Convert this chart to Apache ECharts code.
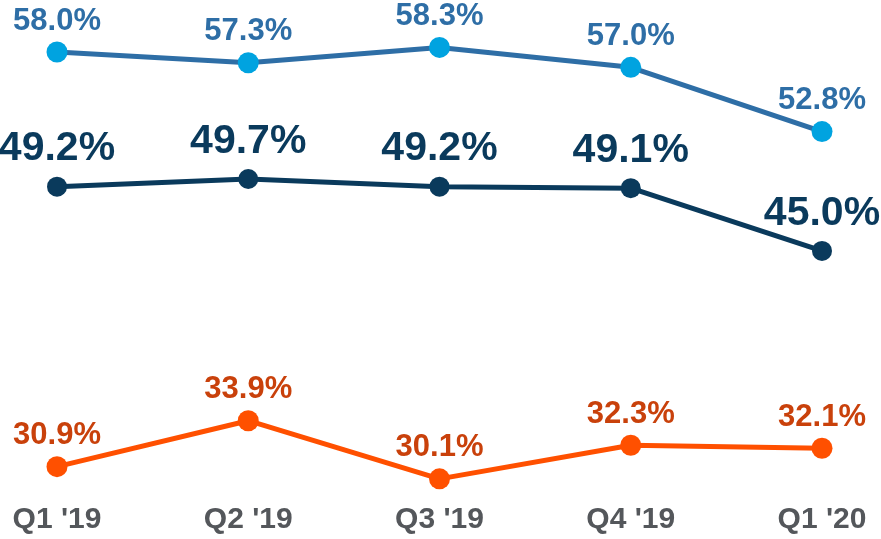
<!DOCTYPE html>
<html><head><meta charset="utf-8">
<script src="https://cdn.jsdelivr.net/npm/echarts@6/dist/echarts.min.js"></script>
<style>html,body{margin:0;padding:0;background:#fff}#c{width:881px;height:539px}</style>
</head><body><div id="c"></div>
<script>
const categories = ["Q1 '19", "Q2 '19", "Q3 '19", "Q4 '19", "Q1 '20"];
const topSeries = [58.0, 57.3, 58.3, 57.0, 52.8];
const midSeries = [49.2, 49.7, 49.2, 49.1, 45.0];
const lowSeries = [30.9, 33.9, 30.1, 32.3, 32.1];

const fmt = p => p.value.toFixed(1) + '%';
const FONT = 'Liberation Sans, Arial, sans-serif';
function line(name, data, lineColor, dotColor, labelColor, size, fontSize, dist) {
  return {
    name, type: 'line', data, clip: false, symbol: 'circle', symbolSize: size,
    lineStyle: { color: lineColor, width: 5 },
    itemStyle: { color: dotColor },
    label: { show: true, position: 'top', distance: dist, formatter: fmt,
      color: labelColor, fontSize, fontWeight: 'bold', fontFamily: FONT },
    emphasis: { disabled: true }, animation: false
  };
}
const chart = echarts.init(document.getElementById('c'));
chart.setOption({
  animation: false,
  grid: { left: 57, right: 59, top: 21.4, bottom: 58.6, containLabel: false },
  xAxis: { type: 'category', data: categories, boundaryGap: false,
    axisLine: { show: false }, axisTick: { show: false }, splitLine: { show: false },
    axisLabel: { color: '#54575B', fontSize: 30, fontWeight: 'bold', fontFamily: FONT, margin: 24 } },
  yAxis: { type: 'value', min: 30, max: 60, show: false, splitLine: { show: false } },
  series: [
    line('top', topSeries, '#2E6EA6', '#00A3E0', '#2E6EA6', 21, 31, 5),
    line('mid', midSeries, '#0A3A5C', '#0A3A5C', '#0A3A5C', 20, 41, 7),
    line('low', lowSeries, '#FF5000', '#FF5000', '#C9410B', 21, 31, 5)
  ]
});
</script></body></html>
